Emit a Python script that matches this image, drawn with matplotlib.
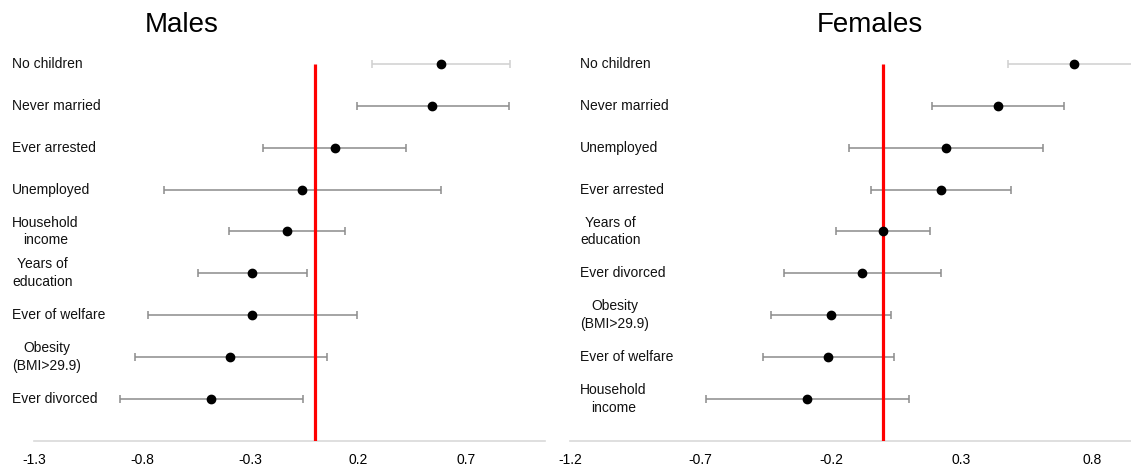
import matplotlib
matplotlib.use("Agg")
import matplotlib.pyplot as plt
import numpy as np

plt.rcParams['font.family'] = ['Liberation Sans', 'DejaVu Sans']

# ---- data ----
males_labels = ["No children", "Never married", "Ever arrested", "Unemployed",
                "Household\nincome", "Years of\neducation", "Ever of welfare",
                "Obesity\n(BMI>29.9)", "Ever divorced"]
males_est = [0.583, 0.544, 0.093, -0.058, -0.127, -0.289, -0.289, -0.39, -0.48]
males_lo = [0.264, 0.194, -0.24, -0.70, -0.398, -0.54, -0.772, -0.83, -0.90]
males_hi = [0.907, 0.898, 0.423, 0.584, 0.142, -0.036, 0.195, 0.055, -0.056]

females_labels = ["No children", "Never married", "Unemployed", "Ever arrested",
                  "Years of\neducation", "Ever divorced", "Obesity\n(BMI>29.9)",
                  "Ever of welfare", "Household\nincome"]
females_est = [0.731, 0.442, 0.240, 0.221, 0.0, -0.08, -0.20, -0.21, -0.29]
females_lo = [0.48, 0.189, -0.13, -0.048, -0.18, -0.38, -0.43, -0.46, -0.68]
females_hi = [1.00, 0.693, 0.612, 0.492, 0.18, 0.223, 0.031, 0.04, 0.10]

males_ticks = [-1.3, -0.8, -0.3, 0.2, 0.7]
females_ticks = [-1.2, -0.7, -0.2, 0.3, 0.8]

W, H = 1131, 467
fig = plt.figure(figsize=(W / 100, H / 100), dpi=100)

def px_axes(x0, x1, ytop, ybot):
    return fig.add_axes([x0 / W, 1 - ybot / H, (x1 - x0) / W, (ybot - ytop) / H])

def panel(ax, labels, est, lo, hi, ticks, xlim, label_x):
    n = len(labels)
    ys = np.arange(n, 0, -1)
    for i in range(n):
        col = '#d0d0d0' if i == 0 else '#8c8c8c'
        ax.errorbar([est[i]], [ys[i]],
                    xerr=[[est[i] - lo[i]], [hi[i] - est[i]]],
                    fmt='none', ecolor=col, elinewidth=1.1, capsize=3, capthick=1.1,
                    zorder=2)
    ax.plot(est, ys, 'o', color='black', markersize=6, zorder=4)
    ax.plot([0, 0], [0, n], color='#ff0000', lw=2.3, zorder=3, solid_capstyle='butt')
    ax.set_xlim(*xlim)
    ax.set_ylim(0, n + 0.57)
    ax.set_xticks(ticks)
    ax.set_xticklabels([f"{t:.1f}" for t in ticks], fontsize=10)
    ax.set_yticks([])
    for s in ['top', 'right', 'left']:
        ax.spines[s].set_visible(False)
    ax.spines['bottom'].set_color('#d9d9d9')
    ax.spines['bottom'].set_linewidth(1.2)
    ax.tick_params(axis='x', length=0, pad=9, colors='black')
    tr = ax.get_yaxis_transform()
    for i in range(n):
        ax.text(label_x, ys[i], labels[i], transform=tr, ha='left', va='center',
                multialignment='center', fontsize=10, color='#111111',
                linespacing=1.35, clip_on=False)

axL = px_axes(34, 545, 40, 441)
panel(axL, males_labels, males_est, males_lo, males_hi, males_ticks,
      (-1.3, 1.067), (12 - 34) / (545 - 34))

axR = px_axes(570, 1131, 40, 441)
panel(axR, females_labels, females_est, females_lo, females_hi, females_ticks,
      (-1.2, 0.95), (580 - 570) / (1131 - 570))

fig.text(182 / W, 1 - 25 / H, "Males", fontsize=20, ha='center', va='center')
fig.text(870 / W, 1 - 25 / H, "Females", fontsize=20, ha='center', va='center')

fig.savefig("out.png", dpi=100, facecolor='white')
